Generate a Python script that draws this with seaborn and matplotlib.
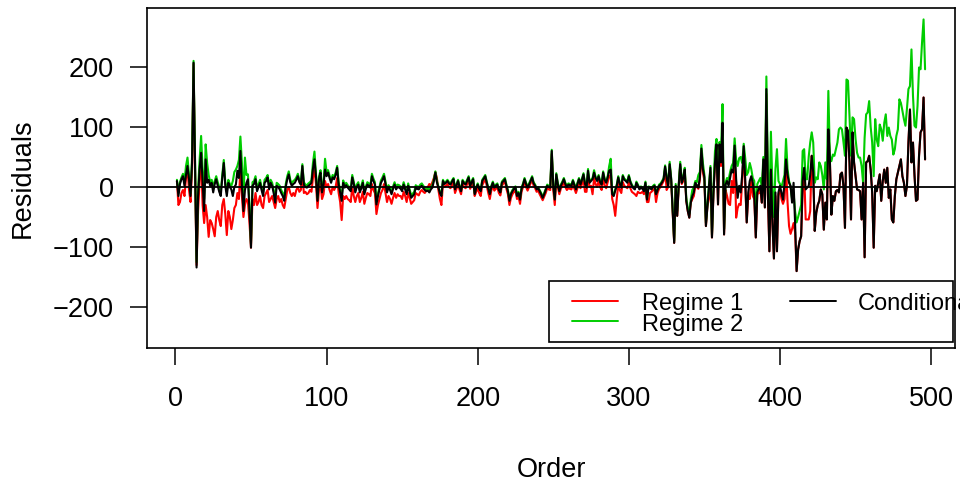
import numpy as np
import pandas as pd
import matplotlib
matplotlib.use("Agg")
import matplotlib.pyplot as plt
import seaborn as sns
from matplotlib.lines import Line2D
from matplotlib.patches import Rectangle

order = np.arange(1, 497)

cond = [
    10, -15, 5, 13, 18, 2, 20, 35, 13, -15, 40, 207, 30, -134, -15, 30, 57, 7, -40, 46,
    7, 12, 2, 7, -9, 5, 13, 2, -8, -15, 15, 40, 2, -15, 7, 0, -4, -15, 0, 4,
    27, 15, 60, 2, -40, -5, 7, 13, -40, -101, 2, 5, 13, -7, 0, 7, -5, -15, 7, 10,
    16, -4, 7, 2, -10, -26, 2, 0, -4, -10, -15, -23, 0, 13, 21, 8, 2, 5, 7, 12,
    18, 8, 4, 35, 4, 0, -1, 2, 4, 7, 30, 46, 18, -23, 13, 24, -9, 4, 29, 18,
    24, 15, 7, 16, 13, 20, 32, 4, -10, -23, 7, -1, 3, -1, -4, -7, 16, 5, -9, 0,
    4, -9, -2, 7, -12, -3, 4, 2, -1, 18, 10, 4, -29, -15, -4, 7, 12, 18, 5, -9,
    -1, -5, -12, -3, 4, -4, 0, -1, -3, -7, 4, -4, -12, 2, -8, -18, -15, -12, -1, -3,
    -4, 0, 2, -2, -5, -7, -6, -9, -4, -1, 10, 24, 8, -1, -10, -15, 10, 5, 7, 10,
    6, 4, 9, 13, -4, 3, 10, 0, -7, 10, 6, 4, 10, 16, 2, 8, 13, -12, -2, 4,
    -3, -7, 10, 14, 18, 7, -3, -12, 0, 7, -1, 2, 4, -5, -9, 7, 10, 13, 2, -7,
    -23, -12, -7, -3, -1, -15, -10, -21, -3, 4, 13, 5, -1, 4, 10, 16, 6, 2, -4, -2,
    -7, -12, -18, -12, -5, 2, 0, -1, 60, 2, -21, 21, 5, -7, 2, 7, 13, 5, 0, 4,
    3, 2, 10, 3, -4, 5, 13, 4, 12, 21, 5, -1, 27, 7, 10, 13, 24, 15, 10, 18,
    8, 4, 24, 12, 7, 16, 27, 29, -12, -15, -6, 2, 16, 5, -1, 18, 12, 10, 7, 18,
    8, 2, -2, -4, 7, 2, -4, -1, -3, -7, 7, -21, -1, -2, -4, 0, 2, -12, -5, 2,
    4, 8, 13, 34, 15, 2, 38, 13, -40, -93, 2, -48, 2, 38, 7, 15, 29, -23, -40, -51,
    -26, -15, -9, 7, 3, -1, 16, 64, 30, 16, -65, -32, 0, 32, -84, -9, 40, 71, -29, 71,
    41, 107, -79, 4, 10, 2, 15, 29, 24, 69, 13, -18, 2, -9, 20, 68, 13, -59, -9, 10,
    18, 7, -15, -84, -9, -3, 2, -26, 46, -34, 163, -9, -107, 29, -60, -119, -9, -107, -9, 2,
    -10, -21, 7, 46, 20, 7, 2, -26, 7, -60, -140, -104, -90, -82, 10, 32, -4, -1, 2, 20,
    52, 24, -73, -43, -30, -23, -4, -12, -71, -26, -54, 96, 46, -46, -15, -23, -7, -5, -9, 21,
    24, 2, -68, 99, 93, 41, -54, 91, 41, 18, -4, -5, -7, -54, 7, -117, 41, 43, 52, 29,
    -9, -101, 2, -7, 7, 21, -23, 10, 29, 7, 32, -18, -4, -54, -59, -15, 13, 24, 35, 46,
    18, 7, -15, 2, 74, 129, 41, 74, 20, -23, -21, 52, 91, 96, 149, 46,
]

regime1 = [
    10, -30, -25, -10, -5, -15, 15, 30, -5, -25, 30, 205, 20, -130, -40, 10, 50, -30, -60, -30,
    -50, -83, -55, -60, -70, -82, -50, -40, -55, -65, -30, -20, -45, -80, -40, -50, -70, -55, -35, -30,
    -10, -20, 30, -15, -50, -30, -20, -25, -60, -101, -20, -30, -10, -30, -25, -15, -30, -35, -15, -10,
    -5, -25, -20, -15, -25, -35, -20, -15, -25, -20, -30, -35, -20, -5, 0, -10, -15, -10, -15, -5,
    0, -8, -5, 20, -10, -8, -12, -10, -5, -8, 15, 30, 5, -35, -5, 5, -20, -12, 10, 0,
    5, -5, -12, 0, -5, 0, 15, -10, -25, -55, -15, -20, -15, -20, -22, -25, 0, -15, -25, -15,
    -10, -25, -18, -8, -28, -18, -10, -12, -15, 5, -5, -10, -45, -30, -20, -10, -5, 5, -10, -25,
    -15, -20, -28, -18, -10, -18, -12, -15, -15, -20, -8, -15, -25, -10, -18, -28, -25, -22, -10, -12,
    -14, -8, -5, -8, -10, -5, 0, 5, 2, 8, 15, 25, 15, -5, -20, -30, 5, 0, 2, 5,
    0, -2, 3, 8, -10, -3, 5, -5, -12, 5, 0, -2, 5, 12, -3, 3, 10, -15, -8, -2,
    -10, -15, 3, 8, 14, 2, -10, -20, -6, 2, -6, -3, 0, -10, -14, 2, 6, 10, -3, -12,
    -30, -18, -12, -8, -6, -20, -16, -28, -8, 0, 10, 0, -6, 0, 6, 12, 2, -2, -8, -6,
    -12, -17, -22, -16, -10, -2, -4, -5, 55, -5, -30, 15, 0, -12, -3, 2, 8, 0, -5, -2,
    -3, -4, 4, -3, -10, -2, 6, -2, 5, 12, -8, -8, 18, 0, 2, -12, 15, 5, 0, 10,
    0, -5, 15, 3, -2, 8, 18, 20, -20, -30, -48, -20, 5, -5, -10, 8, 2, 0, -2, 8,
    -2, -8, -10, -12, -15, -8, -10, -10, -8, -12, 0, -25, -25, -10, -8, -5, -3, -25, -10, -3,
    0, 5, 10, 30, -5, 0, 35, 10, -40, -93, 0, -48, 0, 35, 5, 10, 25, -23, -40, -51,
    -26, -20, -15, 2, 0, -3, 12, 60, 25, 10, -65, -32, -20, 25, -84, -9, 40, 65, -29, 65,
    35, 100, -79, -5, -15, -28, -30, 10, -10, 60, -51, -35, -28, -30, 10, 60, 5, -59, -15, -20,
    10, -15, -20, -84, -12, -10, -5, -26, 40, -34, 155, -15, -107, 20, -60, -119, -15, -107, -12, -5,
    -20, -28, -20, 35, -25, -65, -78, -70, -60, -75, -140, -104, -90, -82, -5, 25, -54, -54, -54, -40,
    52, 24, -73, -43, -30, -23, -4, -12, -71, -26, -54, 96, 46, -46, -15, -23, -7, -5, -9, 21,
    24, 2, -68, 99, 93, 41, -54, 91, 41, 18, -4, -5, -7, -54, 7, -117, 41, 43, 52, 29,
    -9, -101, 2, -7, 7, 21, -23, 10, 29, 7, 32, -18, -4, -54, -59, -15, 13, 24, 35, 46,
    18, 7, -15, 2, 74, 129, 41, 74, 20, -23, -21, 52, 91, 96, 149, 46,
]

regime2 = [
    12, -10, 8, 16, 22, 10, 35, 49, 20, -10, 50, 210, 40, -125, -5, 45, 85, 30, -20, 71,
    40, 20, 8, 12, 0, 10, 18, 8, 0, -8, 20, 45, 8, -8, 12, 5, 2, 10, 25, 29,
    35, 45, 84, 40, -20, 49, 20, 21, -30, -95, 8, 10, 18, -2, 5, 12, 0, -10, 12, 15,
    20, 2, 12, 7, -5, -20, 7, 5, 2, -5, -10, -18, 5, 18, 26, 12, 6, 10, 12, 16,
    22, 12, 8, 38, 8, 4, 3, 6, 8, 11, 40, 59, 22, -18, 17, 28, -5, 8, 47, 25,
    28, 19, 11, 20, 17, 24, 35, 8, -6, -19, 11, 3, 7, 3, 0, -3, 20, 9, -5, 4,
    8, -5, 2, 11, -8, 1, 8, 6, 3, 22, 14, 8, -25, -11, 0, 11, 16, 22, 9, -5,
    3, -1, -8, 1, 8, 0, 4, 3, 1, -3, 8, 0, -8, 6, -4, -14, -11, -8, 3, 1,
    0, 4, 6, 2, -1, -3, -2, -5, 0, 3, 12, 26, 10, 1, -8, -13, 12, 7, 9, 12,
    8, 6, 11, 15, -2, 5, 12, 2, -5, 12, 8, 6, 12, 18, 4, 10, 15, -10, 0, 6,
    -1, -5, 12, 16, 20, 9, -1, -10, 2, 9, 1, 4, 6, -3, -7, 9, 12, 15, 4, -5,
    -21, -10, -5, -1, 1, -13, -8, -19, -1, 6, 15, 7, 1, 6, 12, 18, 8, 4, -2, 0,
    -5, -10, -16, -10, -3, 4, 2, 1, 62, 4, -19, 23, 7, -5, 4, 9, 15, 7, 2, 6,
    5, 4, 12, 5, -2, 7, 15, 6, 14, 23, 7, 1, 30, 9, 12, 15, 28, 17, 12, 20,
    10, 6, 26, 14, 9, 18, 35, 47, -10, -13, -4, 4, 18, 7, 1, 20, 14, 12, 9, 20,
    10, 4, 0, -2, 9, 4, -2, 1, -1, -5, 9, -19, 1, 0, -2, 2, 4, -10, -3, 4,
    6, 10, 15, 36, 18, 5, 42, 15, -35, -90, 5, -40, 5, 42, 10, 18, 32, -18, -35, -45,
    -20, -5, 0, 10, 8, 20, 25, 70, 40, 20, -60, -28, 5, 35, -80, 0, 60, 80, 10, 75,
    60, 138, -70, 8, 15, 12, 25, 35, 40, 81, 45, 35, 48, 50, 40, 72, 48, 20, 25, 40,
    30, 15, 10, -50, 5, 10, 15, 0, 50, 0, 184, 30, -40, 92, 0, -50, 30, 63, 10, 5,
    0, 10, 20, 80, 30, 10, 0, -20, -10, -40, -59, -50, -40, -30, 60, 63, 13, 13, 50, 74,
    91, 74, 7, 16, 13, 41, 35, 20, -4, 41, 13, 160, 52, 43, 54, 52, 63, 74, 96, 99,
    96, 75, 52, 179, 177, 118, 52, 116, 113, 80, 57, 49, 49, 35, 7, 82, 121, 124, 143, 100,
    74, 18, 113, 79, 68, 104, 96, 77, 107, 121, 85, 99, 85, 79, 54, 63, 85, 96, 146, 140,
    127, 113, 102, 130, 163, 168, 229, 152, 102, 99, 135, 199, 196, 241, 279, 196,
]

series_labels = ["Regime 1", "Regime 2", "Conditional"]
series_colors = ["#FF0000", "#00CD00", "#000000"]
x_ticks = [0, 100, 200, 300, 400, 500]
y_ticks = [-200, -100, 0, 100, 200]

sns.set_theme(style="ticks")
plt.rcParams["font.family"] = ["Liberation Sans", "DejaVu Sans"]
plt.rcParams["axes.labelcolor"] = "black"
plt.rcParams["text.color"] = "black"

n = len(order)
df = pd.DataFrame({
    "Order": np.tile(order, 3),
    "Residuals": np.concatenate([regime1, regime2, cond]),
    "Series": np.repeat(series_labels, n),
})

W, H = 960, 486
fig = plt.figure(figsize=(W / 100, H / 100), dpi=100)
fig.patch.set_facecolor("white")
L, R, T, B = 147, 955, 8, 348
ax = fig.add_axes([L / W, 1 - B / H, (R - L) / W, (B - T) / H])
ax.set_facecolor("white")

sns.lineplot(data=df, x="Order", y="Residuals", hue="Series",
             hue_order=series_labels,
             palette=dict(zip(series_labels, series_colors)),
             estimator=None, sort=False, linewidth=1.5, legend=False, ax=ax)

ax.axhline(0, color="black", lw=1.3, zorder=5)
ax.set_xlim(-18.8, 515.8)
ax.set_ylim(-268, 298)
ax.set_xticks(x_ticks)
ax.set_yticks(y_ticks)
for s in ax.spines.values():
    s.set_visible(True)
    s.set_color("black")
    s.set_linewidth(1.2)
ax.tick_params(axis="both", length=12, width=1.1, color="black",
               labelsize=19.5, labelcolor="black")
ax.tick_params(axis="x", pad=15)
ax.tick_params(axis="y", pad=12)

ax.set_xlabel("Order", fontsize=19.5, va="center", color="black")
ax.xaxis.set_label_coords(0.5, (B - 469.5) / (B - T))
ax.set_ylabel("Residuals", fontsize=19.5, va="center", ha="center", color="black")
ax.yaxis.set_label_coords((23 - L) / (R - L), 0.5)

# legend box (drawn in figure coordinates; the last entry runs past the figure edge as in the reference)
def fx(px):
    return px / W

def fy(py):
    return 1 - py / H

fig.add_artist(Rectangle((fx(549), fy(342)), fx(953) - fx(549), fy(281) - fy(342),
                         transform=fig.transFigure, facecolor="white",
                         edgecolor="black", lw=1.2, zorder=10))
leg_rows = [(series_labels[0], series_colors[0], 572, 642, 300.5, 310),
            (series_labels[1], series_colors[1], 572, 642, 321, 330.5),
            (series_labels[2], series_colors[2], 790, 858, 300.5, 310)]
for lab, col, lx, tx, ly, by in leg_rows:
    fig.add_artist(Line2D([fx(lx), fx(lx + 46)], [fy(ly), fy(ly)],
                          transform=fig.transFigure, color=col, lw=1.4, zorder=11))
    fig.text(fx(tx), fy(by), lab, fontsize=17, ha="left", va="baseline",
             color="black", zorder=11)

fig.savefig("out.png", dpi=100, facecolor="white")
